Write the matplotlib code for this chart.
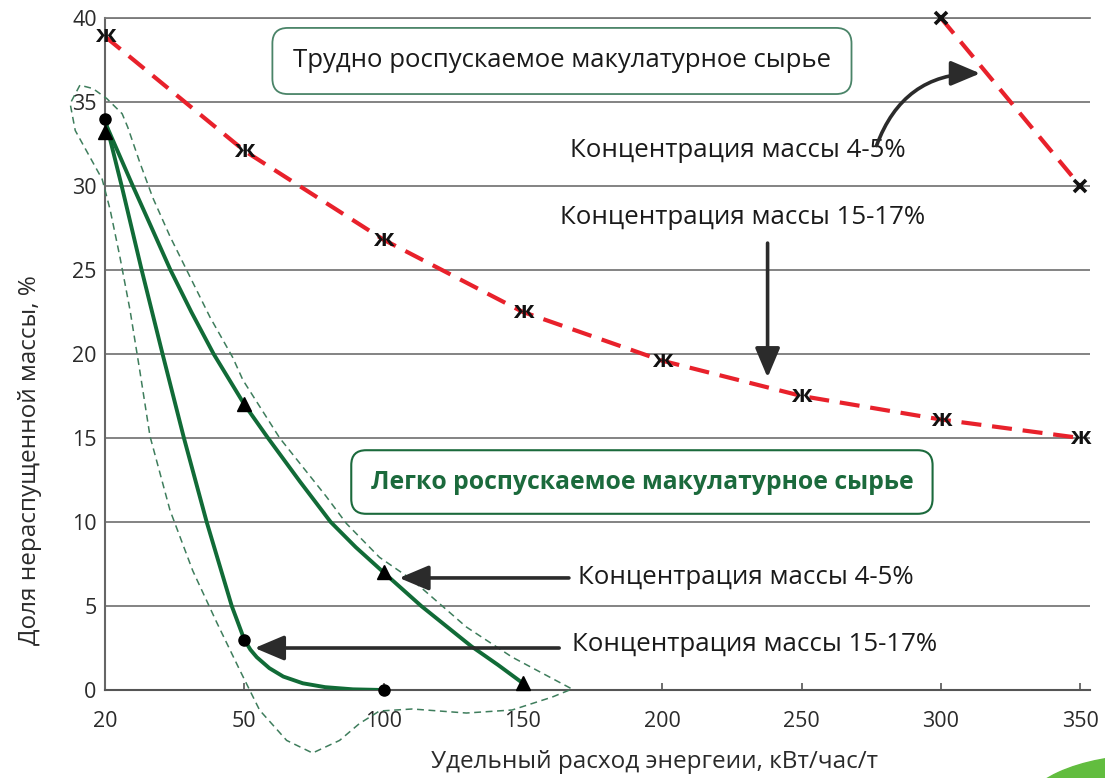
import numpy as np
import matplotlib
matplotlib.use("Agg")
import matplotlib.pyplot as plt
from matplotlib.patches import Ellipse

plt.rcParams['font.family'] = ['Open Sans', 'DejaVu Sans']

# ----------------------------- data ------------------------------------------

x_ticks = [20, 50, 100, 150, 200, 250, 300, 350]
y_ticks = [0, 5, 10, 15, 20, 25, 30, 35, 40]

# hard-to-pulp stock, consistency 15-17 %  (red dashed, "ж" marks)
hard_hi_x = [20, 50, 100, 150, 200, 250, 300, 350]
hard_hi_y = [38.9, 32.1, 26.8, 22.5, 19.6, 17.5, 16.1, 15.0]

# hard-to-pulp stock, consistency 4-5 %  (red dashed, "x" marks)
hard_lo_x = [300, 350]
hard_lo_y = [40.0, 30.0]

# easy-to-pulp stock, consistency 4-5 %  (triangles)
easy_lo_pts_x = [20, 50, 100, 150]
easy_lo_pts_y = [33.2, 17.0, 7.0, 0.4]
easy_lo_line_x = [20, 23, 26, 29.9, 34.1, 38.6, 43.4, 46.7, 50, 58.5, 70, 81,
                  90, 100, 113.5, 122.5, 131.5, 141, 150]
easy_lo_line_y = [33.8, 31.9, 30, 27.6, 25, 22.5, 20, 18.5, 17.0, 15, 12.4, 10,
                  8.5, 7.0, 5, 3.8, 2.6, 1.5, 0.4]

# easy-to-pulp stock, consistency 15-17 %  (circles)
easy_hi_pts_x = [20, 50, 100]
easy_hi_pts_y = [34.0, 3.0, 0.0]
easy_hi_line_x = [20, 23.6, 27.9, 32.4, 37.0, 41.9, 47.3, 50, 52.2, 54.5, 59,
                  64, 71, 79, 89, 100]
easy_hi_line_y = [34, 30, 25, 20, 15, 10, 5, 3.0, 2.4, 1.95, 1.3, 0.8, 0.4,
                  0.17, 0.04, 0]

# dashed outline around the easy-to-pulp group
env_x = [14.6, 12.5, 13.6, 16.8, 19.4, 21.1, 23.2, 25.4, 27.5, 29.7, 34.0, 38.9,
         44.1, 49.0, 55.5, 65.2, 74.5, 84.2, 91.3, 98.5, 110.3, 129.7, 146.1,
         160.5, 167.6, 146.1, 129.7, 110.3, 98.5, 86.7, 79.5, 62.7, 49.7, 47.5,
         42.6, 38.3, 34.0, 30.3, 27.5, 24.9, 23.7, 20.4, 17.4, 14.6]
env_y = [36.0, 34.9, 33.3, 31.7, 30.4, 28.6, 25.8, 22.6, 19.0, 15.1, 10.7, 7.1,
         4.0, 1.2, -1.2, -3.0, -3.75, -3.0, -2.0, -1.25, -1.13, -1.37, -1.19,
         -0.42, 0.06, 1.96, 3.75, 6.55, 7.9, 9.9, 11.5, 15.0, 18.45, 19.8,
         22.2, 24.6, 27.0, 29.3, 31.4, 33.5, 34.3, 35.2, 35.8, 36.0]

hard_title = "Трудно роспускаемое макулатурное сырье"
easy_title = "Легко роспускаемое макулатурное сырье"
lbl_lo = "Концентрация массы 4-5%"
lbl_hi = "Концентрация массы 15-17%"

# ----------------------------- x scale ---------------------------------------
# ticks are drawn equally spaced, so map values piecewise onto tick index
_xe = [20 - 30 * 20] + x_ticks + [350 + 50 * 20]
_pe = [-20] + list(range(len(x_ticks))) + [len(x_ticks) - 1 + 20]

def fwd(x):
    return np.interp(x, _xe, _pe)

def inv(p):
    return np.interp(p, _pe, _xe)

# ----------------------------- figure ----------------------------------------

fig = plt.figure(figsize=(11.05, 7.78), dpi=100)
ax = fig.add_axes([0.095, 0.1131, 0.8914, 0.8638])
ax.set_xscale('function', functions=(fwd, inv))
ax.set_xlim(20, 353.5)
ax.set_ylim(0, 40)

grey = '#7a7a7a'
ax.set_yticks(y_ticks)
ax.set_xticks(x_ticks)
ax.set_xticklabels([str(v) for v in x_ticks])
ax.minorticks_off()
ax.yaxis.grid(True, color=grey, lw=1.3)
ax.set_axisbelow(True)
ax.spines['right'].set_visible(False)
ax.spines['top'].set_color(grey)
ax.spines['top'].set_linewidth(1.3)
ax.spines['left'].set_color('#666666')
ax.spines['left'].set_linewidth(1.5)
ax.spines['bottom'].set_color('#555555')
ax.spines['bottom'].set_linewidth(1.5)
ax.tick_params(axis='x', direction='in', length=5, width=1.2, color='#555555',
               labelsize=15.5, labelcolor='#2a2a2a', pad=15)
ax.tick_params(axis='y', length=0, labelsize=15.5, labelcolor='#2a2a2a', pad=6)

ax.set_xlabel("Удельный расход энергеии, кВт/час/т", fontsize=17.5, color='#2a2a2a')
ax.xaxis.set_label_coords(0.558, -0.107)
ax.xaxis.label.set_va('center')
ax.set_ylabel("Доля нераспущенной массы, %", fontsize=17.5, color='#2a2a2a')
ax.yaxis.set_label_coords(-0.076, 0.342)
ax.yaxis.label.set_va('center')

red = '#e8212b'
green = '#116b37'

# red dashed curves
ax.plot(hard_hi_x, hard_hi_y, color=red, lw=3, dashes=(4.8, 2.6), zorder=3)
ax.plot(hard_lo_x, hard_lo_y, color=red, lw=3, dashes=(4.8, 2.6), zorder=3,
        clip_on=False)
for xv, yv in zip(hard_hi_x, hard_hi_y):
    ax.text(xv, yv, "ж", fontsize=17, fontweight='bold', color='#111111',
            ha='center', va='center', zorder=5)
ax.plot(hard_lo_x, hard_lo_y, ls='none', marker='x', ms=8, mew=2.6,
        color='#111111', zorder=5, clip_on=False)

# green solid curves
ax.plot(easy_lo_line_x, easy_lo_line_y, color=green, lw=2.8, zorder=3,
        solid_joinstyle='round')
ax.plot(easy_hi_line_x, easy_hi_line_y, color=green, lw=2.8, zorder=3,
        solid_joinstyle='round')
ax.plot(easy_lo_pts_x, easy_lo_pts_y, ls='none', marker='^', ms=10,
        color='black', zorder=4, clip_on=False)
ax.plot(easy_hi_pts_x, easy_hi_pts_y, ls='none', marker='o', ms=8,
        color='black', zorder=4, clip_on=False)

# dashed outline
ax.plot(env_x, env_y, color='#3e7d5c', lw=1.1, dashes=(4.5, 3), zorder=3,
        clip_on=False, solid_joinstyle='round', dash_joinstyle='round')

# titled boxes
ax.text(164.0, 37.44, hard_title, fontsize=18.5, color='#1a1a1a', ha='center',
        va='center', zorder=6,
        bbox=dict(boxstyle='round,pad=0.8,rounding_size=0.6', fc='white',
                  ec='#4a8468', lw=1.3))
ax.text(192.7, 12.38, easy_title, fontsize=17.8, fontweight='bold', color='#1b6a3c',
        ha='center', va='center', zorder=6,
        bbox=dict(boxstyle='round,pad=0.78,rounding_size=0.6', fc='white',
                  ec='#1b6a3c', lw=1.5))

# labels
txt = dict(fontsize=18.6, color='#1a1a1a', ha='left', va='center', zorder=6)
ax.text(166.9, 32.14, lbl_lo, **txt)
ax.text(163.3, 28.1, lbl_hi, **txt)
ax.text(169.8, 6.67, lbl_lo, **txt)
ax.text(167.6, 2.68, lbl_hi, **txt)

# arrows
arr = dict(arrowstyle='-|>,head_length=0.9,head_width=0.38', lw=2.6,
           color='#2b2b2b', shrinkA=0, shrinkB=0, mutation_scale=20)
ax.annotate('', xy=(314.1, 36.7), xytext=(276.9, 32.4),
            arrowprops=dict(connectionstyle='arc3,rad=-0.35', **arr), zorder=6)
ax.annotate('', xy=(237.8, 18.6), xytext=(237.8, 26.6), arrowprops=arr, zorder=6)
ax.annotate('', xy=(105.6, 6.67), xytext=(166.5, 6.67), arrowprops=arr, zorder=6)
ax.annotate('', xy=(53.7, 2.5), xytext=(163.0, 2.5), arrowprops=arr, zorder=6)

# green corner decoration
fig.patches.append(Ellipse((1.0407, -0.0476), 0.2353, 0.1542,
                           transform=fig.transFigure, color='#62bd3f'))

fig.savefig("out.png", dpi=100)
